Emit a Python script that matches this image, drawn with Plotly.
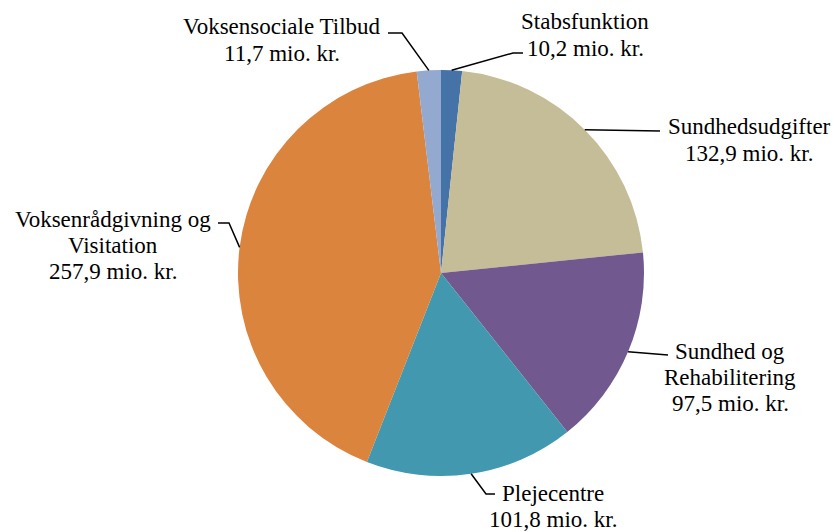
import numpy as np
import plotly.graph_objects as go

# budget per area, mio. kr.
labels = [
    "Stabsfunktion",
    "Sundhedsudgifter",
    "Sundhed og Rehabilitering",
    "Plejecentre",
    "Voksenrådgivning og Visitation",
    "Voksensociale Tilbud",
]
values = [10.2, 132.9, 97.5, 101.8, 257.9, 11.7]
label_text = [
    "Stabsfunktion<br>10,2 mio. kr.",
    "Sundhedsudgifter<br>132,9 mio. kr.",
    "Sundhed og<br>Rehabilitering<br>97,5 mio. kr.",
    "Plejecentre<br>101,8 mio. kr.",
    "Voksenrådgivning og<br>Visitation<br>257,9 mio. kr.",
    "Voksensociale Tilbud<br>11,7 mio. kr.",
]
colors = ["#4572A7", "#C4BD97", "#71588F", "#4198AF", "#DB843D", "#93A9CF"]

OFF = 8  # page body margin
W, H = 839 - OFF, 532 - OFF  # keep the figure inside the window, no scrollbars
CX, CY, R = 441 - OFF, 273 - OFF, 203
FONT = "Times New Roman, Liberation Serif, DejaVu Serif, serif"
LINE_H = 26

# label placement (page pixels): centre of first text line, elbow points of leader
label_pos = [(585, 22), (749, 127), (730, 351), (553, 493), (113, 219), (282, 27)]
leader_pts = [
    [(513, 53), (523, 53)],
    [(660, 131)],
    [(668, 355)],
    [(486, 494), (495, 494)],
    [(229, 223), (218, 223)],
    [(402, 33), (388, 33)],
]


def px(x, y):
    return (x - OFF) / W, 1 - (y - OFF) / H


fig = go.Figure(
    go.Pie(
        labels=labels,
        values=values,
        sort=False,
        direction="clockwise",
        rotation=0,
        marker=dict(colors=colors, line=dict(width=0)),
        textinfo="none",
        hoverinfo="label+value",
        domain=dict(x=[(CX - R) / W, (CX + R) / W], y=[1 - (CY + R) / H, 1 - (CY - R) / H]),
    )
)

total = sum(values)
cum = np.cumsum([0] + values)
for i, txt in enumerate(label_text):
    theta = np.deg2rad((cum[i] + values[i] / 2) / total * 360)
    start = (CX + OFF + R * np.sin(theta), CY + OFF - R * np.cos(theta))
    pts = [start] + leader_pts[i]
    path = "M " + " L ".join(f"{px(x, y)[0]},{px(x, y)[1]}" for x, y in pts)
    fig.add_shape(type="path", path=path, xref="paper", yref="paper",
                  line=dict(color="black", width=1.5))
    lx, ly = label_pos[i]
    for k, line in enumerate(txt.split("<br>")):
        tx, ty = px(lx, ly + k * LINE_H)
        fig.add_annotation(x=tx, y=ty, xref="paper", yref="paper", text=line, showarrow=False,
                           xanchor="center", yanchor="middle",
                           font=dict(family=FONT, size=23, color="black"))

fig.update_layout(
    width=W,
    height=H,
    margin=dict(l=0, r=0, t=0, b=0),
    showlegend=False,
    paper_bgcolor="white",
    plot_bgcolor="white",
    font=dict(family=FONT, size=23, color="black"),
)

fig.write_html("out.html")
